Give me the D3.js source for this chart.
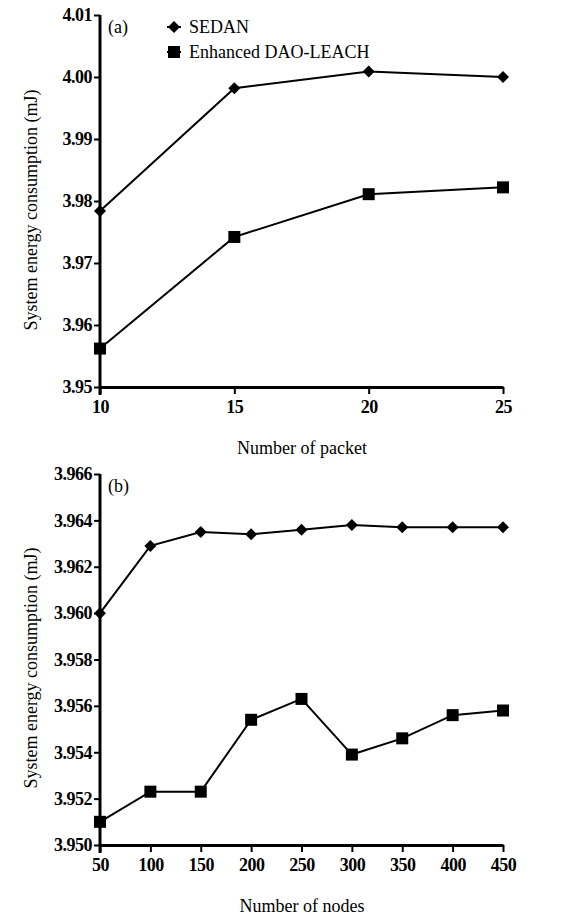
<!DOCTYPE html>
<html>
<head>
<meta charset="utf-8">
<script src="https://cdn.jsdelivr.net/npm/d3@7"></script>
<style>
  body { margin: 0; background: #fff; }
</style>
</head>
<body>
<script>
// panel (a): number of packet
var packets = [10, 15, 20, 25];
var sedanA = [3.9784, 3.9982, 4.0009, 4.0000];
var daoA = [3.9562, 3.9742, 3.9811, 3.9822];
var yTicksA = [3.95, 3.96, 3.97, 3.98, 3.99, 4.00, 4.01];

// panel (b): number of nodes
var nodes = [50, 100, 150, 200, 250, 300, 350, 400, 450];
var sedanB = [3.9600, 3.9629, 3.9635, 3.9634, 3.9636, 3.9638, 3.9637, 3.9637, 3.9637];
var daoB = [3.9510, 3.9523, 3.9523, 3.9554, 3.9563, 3.9539, 3.9546, 3.9556, 3.9558];
var yTicksB = [3.950, 3.952, 3.954, 3.956, 3.958, 3.960, 3.962, 3.964, 3.966];

var seriesNames = ["SEDAN", "Enhanced DAO-LEACH"];

var FONT = "'Liberation Serif', 'Times New Roman', Times, serif";
var DIAMOND = "M0,-6L6,0L0,6L-6,0Z";

var svg = d3.select("body").append("svg")
    .attr("width", 562)
    .attr("height", 919)
    .style("font-family", FONT);

function drawPanel(opts) {
  var x = d3.scaleLinear().domain(d3.extent(opts.xs)).range([100, 503]);
  var y = d3.scaleLinear().domain(d3.extent(opts.yTicks)).range([opts.bottom, opts.top]);
  var g = svg.append("g");

  // x axis
  var xa = g.append("g")
      .attr("transform", "translate(0," + opts.bottom + ")")
      .call(d3.axisBottom(x).tickValues(opts.xs).tickSize(7).tickSizeOuter(0).tickPadding(6));
  // y axis
  var ya = g.append("g")
      .attr("transform", "translate(100,0)")
      .call(d3.axisLeft(y).tickValues(opts.yTicks).tickSize(6).tickSizeOuter(0).tickPadding(2)
        .tickFormat(d3.format(opts.fmt)));

  [xa, ya].forEach(function(a) {
    a.attr("font-family", FONT).attr("font-size", 18);
    a.select(".domain").attr("stroke-width", 3);
    a.selectAll(".tick line").attr("stroke-width", 2);
    a.selectAll(".tick text")
      .style("font-weight", "bold")
      .style("letter-spacing", "-0.5px")
      .attr("fill", "#000");
  });
  ya.select(".domain").attr("d", "M0," + (opts.bottom + 8) + "V" + opts.top);

  var line = d3.line()
      .x(function(d, i) { return x(opts.xs[i]); })
      .y(function(d) { return y(d); });

  // SEDAN
  g.append("path").datum(opts.sedan)
      .attr("d", line).attr("fill", "none").attr("stroke", "#000").attr("stroke-width", 2);
  g.selectAll(".dia").data(opts.sedan).enter().append("path")
      .attr("transform", function(d, i) { return "translate(" + x(opts.xs[i]) + "," + y(d) + ")"; })
      .attr("d", DIAMOND).attr("fill", "#000");

  // DAO-LEACH
  g.append("path").datum(opts.dao)
      .attr("d", line).attr("fill", "none").attr("stroke", "#000").attr("stroke-width", 2);
  g.selectAll(".sq").data(opts.dao).enter().append("rect")
      .attr("x", function(d, i) { return x(opts.xs[i]) - 6; })
      .attr("y", function(d) { return y(d) - 6; })
      .attr("width", 12).attr("height", 12).attr("fill", "#000");

  g.append("text").attr("x", 108).attr("y", opts.top + 18)
      .style("font-size", "18px").text(opts.tag);

  g.append("text")
      .attr("x", 302).attr("y", opts.bottom + 67)
      .attr("text-anchor", "middle").style("font-size", "18px")
      .text(opts.xLabel);

  g.append("text")
      .attr("transform", "translate(37," + opts.labelY + ") rotate(-90)")
      .attr("text-anchor", "middle").style("font-size", "18px")
      .text("System energy consumption (mJ)");
}

drawPanel({xs: packets, sedan: sedanA, dao: daoA, yTicks: yTicksA, fmt: ".2f",
  top: 15, bottom: 387, tag: "(a)", xLabel: "Number of packet", labelY: 210});
drawPanel({xs: nodes, sedan: sedanB, dao: daoB, yTicks: yTicksB, fmt: ".3f",
  top: 474, bottom: 845, tag: "(b)", xLabel: "Number of nodes", labelY: 668});

// legend
var leg = svg.append("g").attr("transform", "translate(167,0)");
seriesNames.forEach(function(name, i) {
  var cy = 27 + i * 25;
  leg.append("line").attr("x1", 0).attr("x2", 14).attr("y1", cy).attr("y2", cy)
      .attr("stroke", "#000").attr("stroke-width", 2);
  if (i === 0) {
    leg.append("path").attr("transform", "translate(7," + cy + ")")
        .attr("d", DIAMOND).attr("fill", "#000");
  } else {
    leg.append("rect").attr("x", 1).attr("y", cy - 6).attr("width", 12).attr("height", 12)
        .attr("fill", "#000");
  }
  leg.append("text").attr("x", 22).attr("y", cy + 6).style("font-size", "18px").text(name);
});
</script>
</body>
</html>
